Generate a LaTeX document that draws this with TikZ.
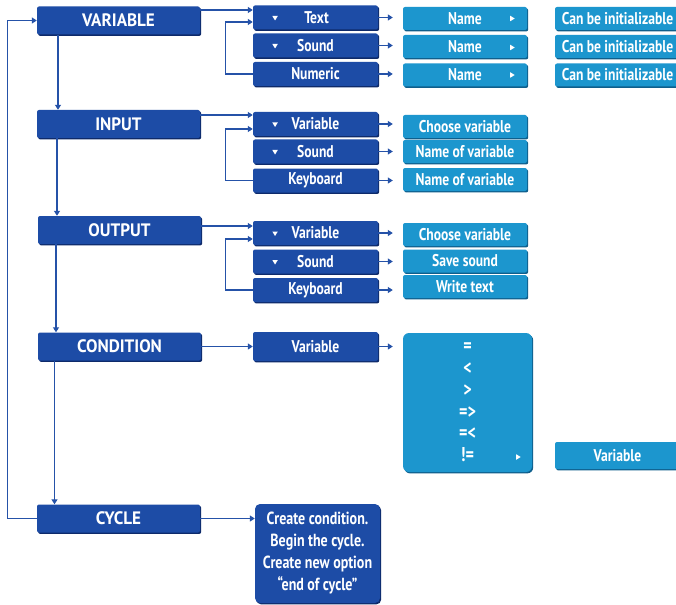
\documentclass[tikz,border=0pt]{standalone}
\usepackage{fontspec}
\setmainfont{PT Sans}[FakeStretch=0.8]
\newfontfamily\mainlab{PT Sans}[FakeStretch=0.95]
\usetikzlibrary{arrows.meta,calc}
\definecolor{dblue}{HTML}{1D4CA6}
\definecolor{dshade}{HTML}{0E2A6A}
\definecolor{lblue}{HTML}{1C96CE}
\definecolor{lshade}{HTML}{0F5F8C}
\definecolor{lineblue}{HTML}{2552A8}
\newcommand\dtri[1]{\fill[white] ($(#1.west)+(19.5,-1.5)$) -- ++(5.5,0) -- ++(-2.75,4.5) -- cycle;}
\newcommand\rtri[2]{\fill[white] ($(#1)+(-2,-2.75)$) -- ++(0,5.5) -- ++(4.5,-2.75) -- cycle;}
\begin{document}
\begin{tikzpicture}[x=1pt,y=-1pt,
  base/.style={rounded corners=2pt, font=\bfseries\fontsize{17}{19}\selectfont, text=white, inner sep=0pt,
    align=center},
  dbox/.style={base, fill=dblue, preaction={fill=dshade, transform canvas={xshift=1.2pt,yshift=-1.4pt}}},
  lbox/.style={base, fill=lblue, preaction={fill=lshade, transform canvas={xshift=1.2pt,yshift=-1.4pt}}},
  mainbox/.style={dbox, minimum width=163pt, minimum height=28pt, font=\mainlab\bfseries\fontsize{18}{20}\selectfont},
  subbox/.style={dbox, minimum width=125pt, minimum height=24pt},
  resbox/.style={lbox, minimum width=124pt, minimum height=23pt},
  arr/.style={draw=lineblue, line width=1.2pt, -{Triangle[width=6pt,length=5pt]}}
]
\useasboundingbox (0,0) rectangle (676,604);
\fill[white] (0,0) rectangle (676,604);
% main column
\node[mainbox] (var)  at (118.5,20.5)  {VARIABLE};
\node[mainbox] (inp)  at (118.5,124)   {INPUT};
\node[mainbox] (outp) at (119.5,230)   {OUTPUT};
\node[mainbox] (cond) at (119.5,346.5) {CONDITION};
\node[mainbox] (cyc)  at (118.5,518.5) {CYCLE};
% column 2
\node[subbox] (v1) at (315.5,17.5) {\hspace*{2pt}Text};
\node[subbox] (v2) at (315.5,45.5) {Sound};
\node[subbox] (v3) at (315.5,74)   {Numeric};
\node[subbox] (i1) at (315.5,124)  {Variable};
\node[subbox] (i2) at (315.5,151.5){Sound};
\node[subbox] (i3) at (315.5,180.5){Keyboard};
\node[subbox] (o1) at (315.5,233)  {Variable};
\node[subbox] (o2) at (315.5,261.5){Sound};
\node[subbox] (o3) at (315.5,290)  {Keyboard};
\node[subbox, minimum height=29pt] (c1) at (315.5,346.5) {Variable};
\node[dbox, minimum width=125pt, minimum height=99pt, rounded corners=5pt,
  font=\bfseries\fontsize{17.5}{22}\selectfont] (cy1) at (317.5,553.5)
  {Create condition.\\Begin the cycle.\\Create new option\\``end of cycle''};
% column 3
\node[resbox] (vn1) at (465,18.5) {Name};
\node[resbox] (vn2) at (465,46.5) {Name};
\node[resbox] (vn3) at (465,75)   {Name};
\node[resbox] (in1) at (465,126.5){Choose variable};
\node[resbox] (in2) at (465,151.5){Name of variable};
\node[resbox] (in3) at (465,179.5){Name of variable};
\node[resbox] (on1) at (465,234.5){Choose variable};
\node[resbox] (on2) at (465,261)  {Save sound};
\node[resbox] (on3) at (465,286.5){Write text};
\node[lbox, minimum width=129pt, minimum height=139pt, rounded corners=6pt,
  font=\bfseries\fontsize{20}{21.8}\selectfont] (cops) at (467.5,402.5)
  {=\\<\\>\\=>\\=<\\!=};
% column 4
\node[resbox, minimum width=125pt] (vc1) at (617.5,18.5) {Can be initializable};
\node[resbox, minimum width=125pt] (vc2) at (617.5,46.5) {Can be initializable};
\node[resbox, minimum width=125pt] (vc3) at (617.5,75)   {Can be initializable};
\node[resbox, minimum width=125pt, minimum height=27pt] (cvar) at (617.5,455.5) {Variable};
% triangles
\dtri{v1}\dtri{v2}\dtri{i1}\dtri{i2}\dtri{o1}\dtri{o2}
\rtri{$(vn1.east)+(-15,0)$}{}
\rtri{$(vn2.east)+(-15,1)$}{}
\rtri{$(vn3.east)+(-15,0)$}{}
\rtri{$(cops.east)+(-14,54.5)$}{}
% vertical chain
\draw[arr] ([xshift=-60.5pt]var.south) -- ([xshift=-60.5pt]var.south |- inp.north);
\draw[arr] ([xshift=-61.5pt]inp.south) -- ([xshift=-61.5pt]inp.south |- outp.north);
\draw[arr] ([xshift=-63.5pt]outp.south) -- ([xshift=-63.5pt]outp.south |- cond.north);
\draw[arr] ([xshift=-65pt]cond.south) -- ([xshift=-65pt]cond.south |- cyc.north);
% left loop
\draw[arr] (cyc.west) -- ++(-29,0) |- (var.west);
% main to column 2
\draw[arr] ([yshift=10.5pt]var.east) -- ([yshift=10.5pt]var.east -| v1.west);
\draw[arr] (v3.west) -- ++(-27,0) |- ([yshift=-4.5pt]v1.west);
\draw[arr] ([yshift=9pt]inp.east) -- ([yshift=9pt]inp.east -| i1.west);
\draw[arr] (i3.west) -- ++(-27,0) |- ([yshift=-5pt]i1.west);
\draw[arr] ([yshift=4pt]outp.east) -- ([yshift=4pt]outp.east -| o1.west);
\draw[arr] (o3.west) -- ++(-27,0) |- ([yshift=-6pt]o1.west);
\draw[arr] (cond.east) -- (cond.east -| c1.west);
\draw[arr] (cyc.east) -- (cyc.east -| cy1.west);
% column 2 to column 3
\foreach \a/\b in {v1/vn1,v2/vn2,v3/vn3,i1/in1,i2/in2,i3/in3,o1/on1,o2/on2,o3/on3,c1/cops}
  \draw[arr, shorten >=10pt] (\a.east) -- (\a.east -| \b.west);
\end{tikzpicture}
\end{document}
